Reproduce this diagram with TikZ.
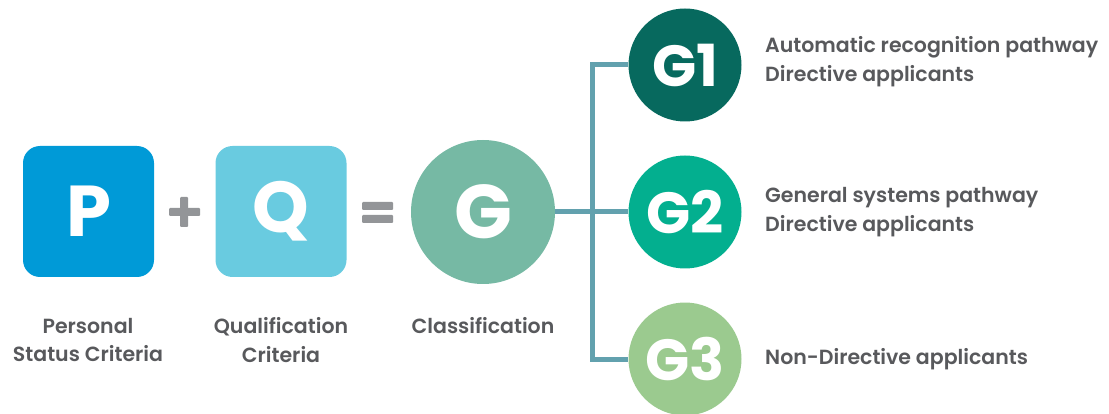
\documentclass[tikz,border=0pt]{standalone}
\usepackage{fontspec}
\setmainfont{Poppins SemiBold}[BoldFont=Poppins Bold]
\definecolor{pblue}{HTML}{009AD7}
\definecolor{qblue}{HTML}{69CBE0}
\definecolor{ggreen}{HTML}{76B9A4}
\definecolor{gone}{HTML}{07695E}
\definecolor{gtwo}{HTML}{03AF8F}
\definecolor{gthree}{HTML}{9BCA8F}
\definecolor{connc}{HTML}{62A1AE}
\definecolor{txtgray}{HTML}{58595C}
\definecolor{symgray}{HTML}{939598}
\begin{document}
\begin{tikzpicture}[x=1pt,y=-1pt,
  sqbox/.style={rounded corners=17pt, minimum width=131pt, minimum height=131pt, inner sep=0pt, text=white, font=\bfseries\fontsize{72}{72}\selectfont},
  bigcirc/.style={circle, minimum size=144pt, inner sep=0pt, text=white, font=\bfseries\fontsize{76}{76}\selectfont},
  smallcirc/.style={circle, minimum size=113pt, inner sep=0pt, text=white, font=\bfseries\fontsize{58}{58}\selectfont},
  lbl/.style={text=txtgray, align=center, font=\fontsize{20.5}{28.5}\selectfont, inner sep=0pt},
  rlbl/.style={text=txtgray, align=left, anchor=west, font=\fontsize{20.5}{28.5}\selectfont, inner sep=0pt},
  conn/.style={draw=connc, line width=5pt},
  sym/.style={fill=symgray, draw=none, rounded corners=1pt}]
\useasboundingbox (0,0) rectangle (1109,414);
\node[sqbox, fill=pblue] (P) at (88.5,211.5) {P};
\node[sqbox, fill=qblue] (Q) at (281,211.5) {Q};
\node[bigcirc, fill=ggreen] (G) at (483,212) {G};
\node[smallcirc, fill=gone] (G1) at (685,65) {G1};
\node[smallcirc, fill=gtwo] (G2) at (685,212) {G2};
\node[smallcirc, fill=gthree] (G3) at (685,359) {G3};
% plus and equals
\fill[sym] (169,208) rectangle (200,216);
\fill[sym] (180,197) rectangle (188,227);
\fill[sym] (362,202) rectangle (393,210);
\fill[sym] (362,215) rectangle (393,223);
% connectors
\coordinate (J) at (592,212);
\draw[conn] (G.east) -- (G2.west);
\draw[conn] (G1.west) -| (J) |- (G3.west);
% labels
\node[lbl] (lP) at (88,340) {Personal\\Status Criteria};
\node[lbl] (lQ) at (281,340) {Qualification\\Criteria};
\node[lbl] (lG) at (483,326) {Classification};
\node[rlbl] (t1) at (765,61.5) {Automatic recognition pathway\\Directive applicants};
\node[rlbl] (t2) at (765,212) {General systems pathway\\Directive applicants};
\node[rlbl] (t3) at (765,359) {Non-Directive applicants};
\end{tikzpicture}
\end{document}
